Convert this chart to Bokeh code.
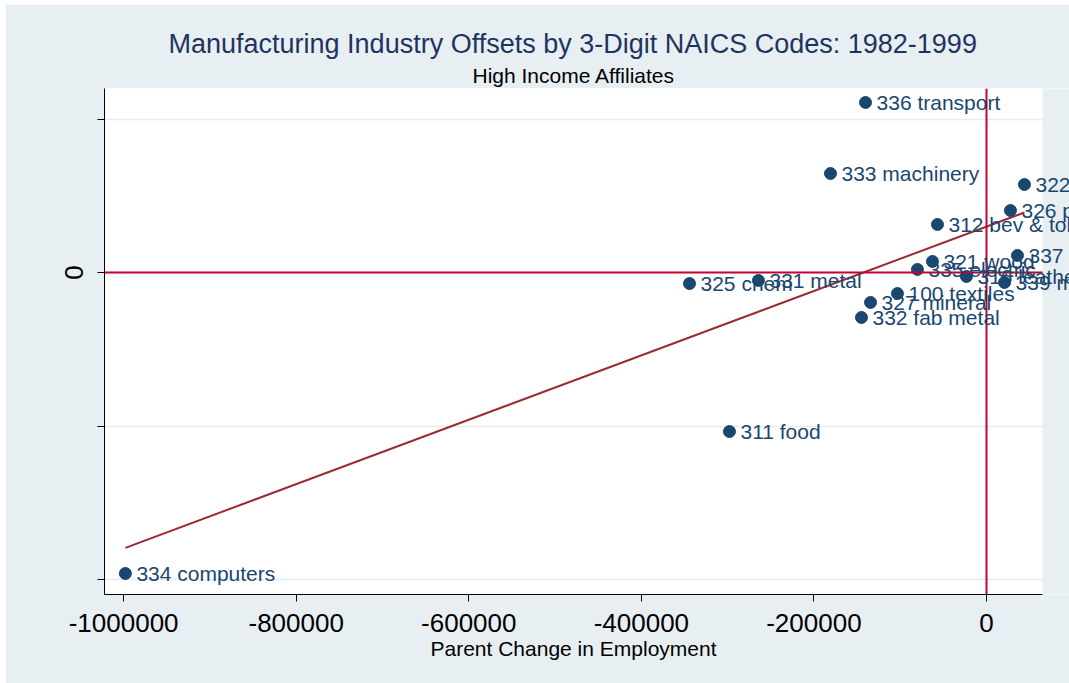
from bokeh.plotting import figure
from bokeh.models import ColumnDataSource, FixedTicker, Range1d, Title, Span, Label, BoxAnnotation
from bokeh.embed import file_html
from bokeh.resources import INLINE

# --- data ---
industries = ["336 transport", "333 machinery", "322 paper", "326 plastics",
              "312 bev & tobacco", "337 furniture", "321 wood", "335 electric",
              "316 leather", "339 misc", "325 chem", "331 metal", "100 textiles",
              "327 mineral", "332 fab metal", "311 food", "334 computers"]
parent_change = [-140200, -180800, 44000, 27800, -56800, 35900, -62600, -80000,
                 -23200, 20900, -344200, -264300, -103200, -134400, -144900,
                 -297900, -998000]
affiliate_change = [11075, 6450, 5730, 4040, 3130, 1110, 720, 200,
                    -260, -650, -720, -520, -1370, -1950, -2930,
                    -10360, -19610]
x_ticks = [-1000000, -800000, -600000, -400000, -200000, 0]
x_tick_labels = {-1000000: "-1000000", -800000: "-800000", -600000: "-600000",
                 -400000: "-400000", -200000: "-200000", 0: "0"}
y_ticks = [-20000, -10000, 0, 10000]
y_tick_labels = {-20000: "", -10000: "", 0: "0", 10000: ""}
fit_intercept = 2990
fit_slope = 0.02097
plot_x_min, plot_x_max = -1022200, 64900
plot_y_min, plot_y_max = -20977, 11987

BG = "#e8eff2"
NAVY = "#1a476f"
TITLE_C = "#1e3460"
RED = "#c10534"
FIT = "#9c2a33"
FONT = "Liberation Sans"

src = ColumnDataSource(dict(x=parent_change, y=affiliate_change, label=industries))

# frame extends to the page edge so that labels may run past the plot region
p = figure(width=1064, height=679, output_backend="svg", toolbar_location=None,
           x_range=Range1d(plot_x_min, 96200), y_range=Range1d(plot_y_min, plot_y_max),
           min_border_left=99, min_border_right=0, min_border_top=84, min_border_bottom=89)
p.margin = (4, 0, 0, 5)
p.border_fill_color = BG
p.background_fill_color = "white"
p.outline_line_color = None

# titles (added inner first)
p.add_layout(Title(text="High Income Affiliates", align="left", text_font=FONT,
                   text_font_size="21px", text_font_style="normal", text_color="black",
                   standoff=4, offset=368), "above")
p.add_layout(Title(text="Manufacturing Industry Offsets by 3-Digit NAICS Codes: 1982-1999",
                   align="left", text_font=FONT, text_font_size="27px",
                   text_font_style="normal", text_color=TITLE_C, standoff=2, offset=64), "above")

# axes
p.xaxis.ticker = FixedTicker(ticks=x_ticks)
p.yaxis.ticker = FixedTicker(ticks=y_ticks)
p.xaxis.bounds = (plot_x_min, plot_x_max)
p.xaxis.major_label_overrides = x_tick_labels
p.yaxis.major_label_overrides = y_tick_labels
for ax in (p.xaxis, p.yaxis):
    ax.axis_line_color = "black"
    ax.major_tick_line_color = "black"
    ax.major_tick_out = 7
    ax.major_tick_in = 0
    ax.minor_tick_line_color = None
    ax.major_label_text_font = FONT
    ax.major_label_text_font_size = "26px"
    ax.major_label_text_color = "black"
p.yaxis.major_label_orientation = "vertical"
p.yaxis.major_label_standoff = 14
p.xaxis.major_label_standoff = 12

# x-axis title, positioned under the plot region
p.add_layout(Title(text="Parent Change in Employment", align="left", text_font=FONT,
                   text_font_size="21px", text_font_style="normal", text_color="black",
                   standoff=0, offset=326), "below")

p.xgrid.grid_line_color = None
p.ygrid.grid_line_color = "#e3ecef"
p.ygrid.grid_line_width = 1.5

# reference lines
p.add_layout(Span(location=0, dimension="width", line_color=RED, line_width=2))
p.add_layout(Span(location=0, dimension="height", line_color=RED, line_width=2))

# graph-region colour right of the plot region
p.add_layout(BoxAnnotation(left=plot_x_max, fill_color=BG, fill_alpha=1.0, line_color=None))

# fitted line over data span
xmin, xmax = min(parent_change), max(parent_change)
p.line([xmin, xmax], [fit_intercept + fit_slope * xmin, fit_intercept + fit_slope * xmax],
       line_color=FIT, line_width=2)

p.scatter("x", "y", source=src, size=12, fill_color=NAVY, line_color=NAVY)
for xv, yv, name in zip(parent_change, affiliate_change, industries):
    p.add_layout(Label(x=xv, y=yv, text=name, x_offset=11, y_offset=0,
                       text_baseline="middle", text_font=FONT, text_font_size="21px",
                       text_color=NAVY))

open("out.html", "w").write(file_html(p, INLINE))
